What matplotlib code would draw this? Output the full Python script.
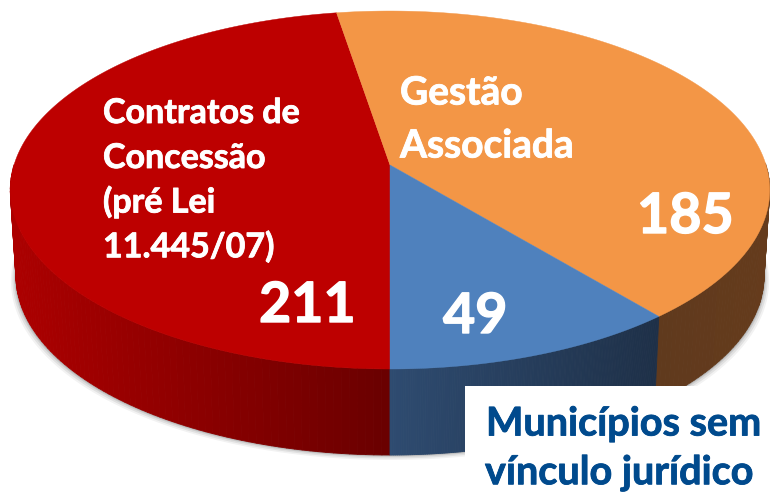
import matplotlib
matplotlib.use("Agg")
import matplotlib.pyplot as plt
import matplotlib.patheffects as pe
from matplotlib.collections import PolyCollection
from matplotlib.colors import LinearSegmentedColormap
from matplotlib.patches import Rectangle
import numpy as np

plt.rcParams['font.family'] = ['Lato', 'DejaVu Sans']

values = [211, 185, 49]
top_colors = ["#bd0000", "#f39646", "#4f81bd"]
wall_colors = [("#ac0000", "#6a0000"), ("#603a1d", "#653b1c"), ("#2e4b70", "#1e3048")]

# pie geometry, in picture pixels
CX, CY = 390, 165
RX, BT, K = 376, 175.5, 0.1397
DEPTH, SHRINK = 86, 0.985


def project(theta, scale=1.0, drop=0.0):
    # circle seen in perspective, the centre lands off the ellipse middle
    x, y = np.cos(theta), np.sin(theta)
    w = 1 + K * y
    return CX + RX * scale * x / w, CY - BT * y / w + drop


fig = plt.figure(figsize=(7.7, 4.94), dpi=100)
ax = fig.add_axes([0, 0, 1, 1])
ax.set_xlim(0, 770)
ax.set_ylim(494, 0)
ax.axis("off")

# slices run clockwise starting straight down
edges = np.radians(270 - np.cumsum([0] + values) * 360 / sum(values))

# soft shadow under the pie
front = np.radians(np.linspace(180, 360, 200))
for grow, alpha in zip([5, 3.5, 2, 1], [0.05, 0.07, 0.09, 0.12]):
    sx, sy = project(front, SHRINK + grow / RX, DEPTH + grow)
    tx, ty = project(front)
    ax.fill(np.r_[sx, tx[::-1]], np.r_[sy, ty[::-1]], color="black", alpha=alpha, lw=0, zorder=1)

# side walls
for i in range(len(values)):
    start, end = edges[i], edges[i + 1]
    cmap = LinearSegmentedColormap.from_list("wall", wall_colors[i])
    th = np.linspace(start, end, 160)
    # only the front half of the rim shows
    th = th[np.sin(th) <= 0.02]
    if len(th) < 2:
        continue
    xt, yt = project(th)
    xb, yb = project(th, SHRINK, DEPTH)
    strips = [[(xt[j], yt[j]), (xt[j + 1], yt[j + 1]), (xb[j + 1], yb[j + 1]), (xb[j], yb[j])]
              for j in range(len(th) - 1)]
    mid = (xt[:-1] + xt[1:]) / 2
    shade = (mid - mid.min()) / (mid.max() - mid.min())
    cols = cmap(shade)
    ax.add_collection(PolyCollection(strips, facecolors=cols, edgecolors=cols, linewidths=0.6, zorder=2))

# top face
for i in range(len(values)):
    th = np.linspace(edges[i], edges[i + 1], 300)
    x, y = project(th)
    ax.fill(np.r_[CX, x], np.r_[CY, y], color=top_colors[i], lw=0.3, zorder=3)

# box hiding the corner of the pie
ax.add_patch(Rectangle((465, 386), 305, 108, fc="white", ec="none", zorder=4))


def heavy(width, color):
    # reference font is a bit heavier than Lato bold
    return [pe.withStroke(linewidth=width, foreground=color)]


white = dict(color="white", fontweight="bold", zorder=5, va="center", ha="left")
for label, lx, ly in [("Contratos de", 103, 113), ("Concessão", 103, 158),
                      ("(pré Lei", 103, 202), ("11.445/07)", 103, 247)]:
    ax.text(lx, ly, label, fontsize=24.5, path_effects=heavy(0.6, "white"), **white)
for label, lx, ly in [("Gestão", 400, 93), ("Associada", 400, 146)]:
    ax.text(lx, ly, label, fontsize=28, path_effects=heavy(0.6, "white"), **white)
for val, lx, ly in zip(values, [259, 637, 443], [306, 217, 317]):
    ax.text(lx, ly, str(val), fontsize=40, path_effects=heavy(1.0, "white"), **white)

blue = dict(color="#004a8d", fontweight="bold", fontsize=28.5, zorder=5, va="center", ha="left")
ax.text(486, 424, "Municípios sem", path_effects=heavy(0.6, "#004a8d"), **blue)
ax.text(485, 473, "vínculo jurídico", path_effects=heavy(0.6, "#004a8d"), **blue)

fig.savefig("out.png", dpi=100)
